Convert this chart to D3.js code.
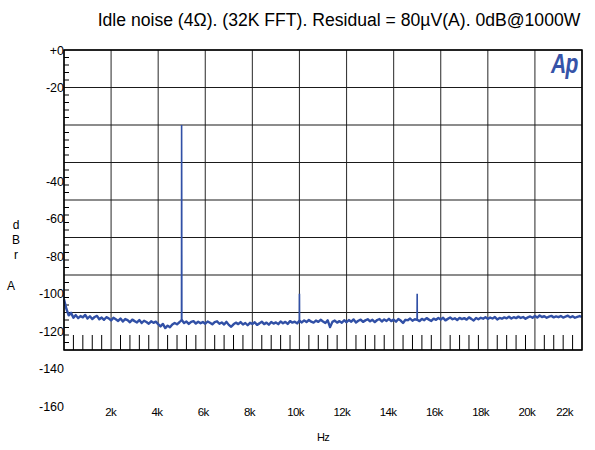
<html lang='en'>
    <head>
        <meta charset='utf-8'>
        <title>Idle noise</title>
        <script src="https://d3js.org/d3.v7.min.js"></script>
        <style>
            body { margin: 0; background: #fff; }
            svg text { font-family: "Liberation Sans", Arial, sans-serif; fill: #000; }
        </style>
    </head>
    <body>
        <script>
            var width = 595;
            var height = 450;

            // noise floor, one reading every 100 Hz from 0 to 22k (dBrA)
            var noiseStep = 100;
            var noiseDb = [
                -103.0, -108.0, -111.5, -110.2, -112.8, -111.4, -113.0, -111.9, -112.6, -111.3,
                -113.2, -112.0, -113.5, -112.4, -111.8, -113.6, -112.7, -113.9, -112.5, -113.1,
                -114.2, -112.8, -113.6, -114.5, -113.2, -114.8, -113.5, -114.1, -115.2, -113.8,
                -114.6, -115.3, -114.0, -115.6, -114.4, -115.1, -116.0, -114.7, -115.5, -114.9,
                -116.2, -117.4, -116.1, -118.3, -117.0, -117.9, -116.4, -115.6, -116.3, -115.2,
                -114.0, -115.6, -114.8, -116.1, -115.0, -114.6, -115.9, -114.9, -115.7, -115.1,
                -116.0, -114.8, -115.5, -116.3, -115.1, -114.7, -116.0, -115.3, -116.4, -115.0,
                -116.6, -117.6, -116.3, -115.4, -116.2, -115.1, -116.4, -115.6, -116.8, -115.5,
                -116.1, -115.2, -116.6, -115.8, -114.9, -116.2, -115.4, -116.5, -115.1, -115.9,
                -115.3, -116.2, -114.8, -115.7, -115.0, -116.1, -114.6, -115.4, -114.9, -115.8,
                -114.4, -115.3, -114.2, -115.1, -114.0, -114.9, -115.4, -114.3, -115.0, -113.9,
                -114.8, -115.6, -114.2, -117.8, -115.0, -114.3, -115.4, -114.6, -115.5, -114.1,
                -115.2, -114.0, -114.9, -113.7, -115.3, -114.4, -113.8, -115.0, -114.2, -113.6,
                -114.7, -113.9, -115.1, -114.0, -113.5, -114.8, -113.7, -114.5, -113.4, -114.6,
                -113.8, -114.9, -113.5, -114.3, -115.6, -113.9, -114.1, -113.2, -114.4, -113.6,
                -113.9, -114.6, -113.4, -114.1, -113.0, -113.8, -114.5, -113.3, -113.9, -112.9,
                -113.7, -112.8, -114.2, -113.4, -112.7, -113.6, -113.1, -114.0, -112.9, -113.5,
                -113.0, -113.8, -112.6, -113.4, -114.3, -112.9, -113.6, -112.8, -113.3, -112.5,
                -113.4, -112.7, -113.2, -112.4, -113.7, -112.9, -113.3, -112.6, -113.1, -112.3,
                -113.2, -112.5, -113.0, -112.2, -112.9, -112.4, -113.3, -112.6, -112.1, -112.8,
                -111.9, -112.7, -111.6, -112.4, -112.0, -112.8, -112.2, -111.8, -112.6, -112.1,
                -112.5, -111.9, -112.7, -112.2, -111.7, -112.6, -112.0, -112.8, -112.3, -111.9,
                -112.4
            ];

            // tones sticking out of the floor, one list of [Hz, dBrA] bins per tone
            var toneBins = [
                [[4990, -114.5], [4995, -10], [5000, -46], [5005, -114.2]],
                [[9995, -115.2], [10000, -100], [10005, -115.6]],
                [[14995, -113.6], [15000, -100], [15005, -114.0]]
            ];

            var xTickValues = [2000, 4000, 6000, 8000, 10000, 12000, 14000, 16000, 18000, 20000, 22000];
            var xTickText = ["2k", "4k", "6k", "8k", "10k", "12k", "14k", "16k", "18k", "20k", "22k"];
            // the analyzer prints the top two labels on the +30 / +10 lines
            var yTickAt = [30, 10, -40, -60, -80, -100, -120, -140, -160];
            var yTickText = ["+0", "-20", "-40", "-60", "-80", "-100", "-120", "-140", "-160"];

            var title = "Idle noise (4\u03A9). (32K FFT). Residual = 80\u00B5V(A). 0dB@1000W";

            var noise = noiseDb.map(function(v, i) { return [i * noiseStep, v]; });

            var plotL = 64, plotR = 582, plotT = 50, plotB = 350;

            var x = d3.scaleLinear().domain([0, 22000]).range([plotL, plotR]);
            var y = d3.scaleLinear().domain([-130, 30]).range([plotB, plotT]);
            // tick labels are laid out on a slightly narrower scale than the grid
            var xLabel = d3.scaleLinear().domain([0, 22000]).range([64.5, 573]);

            var svg = d3.select('body')
                        .append('svg')
                        .attr('width', width)
                        .attr('height', height);

            svg.append('text')
               .attr('x', 339)
               .attr('y', 26)
               .attr('text-anchor', 'middle')
               .style('font-size', '17.6px')
               .text(title);

            // grid
            var gridX = d3.range(0, 22001, 2000);
            var gridY = d3.range(30, -131, -20);

            svg.append('g')
               .selectAll('line')
               .data(gridX)
               .enter()
               .append('line')
               .attr('x1', function(d) { return x(d); })
               .attr('x2', function(d) { return x(d); })
               .attr('y1', plotT)
               .attr('y2', plotB)
               .attr('stroke', '#3a3a3a')
               .attr('stroke-width', 1.1);

            svg.append('g')
               .selectAll('line')
               .data(gridY)
               .enter()
               .append('line')
               .attr('x1', plotL)
               .attr('x2', plotR)
               .attr('y1', function(d) { return y(d); })
               .attr('y2', function(d) { return y(d); })
               .attr('stroke', '#1a1a1a')
               .attr('stroke-width', 1.1);

            // minor ticks
            var minorX = d3.range(0, 22000, 400).filter(function(d) { return d % 2000 != 0; });
            var minorY = d3.range(30, -130, -4).filter(function(d) { return (d - 30) % 20 != 0; });

            svg.append('g')
               .selectAll('line')
               .data(minorX)
               .enter()
               .append('line')
               .attr('x1', function(d) { return x(d); })
               .attr('x2', function(d) { return x(d); })
               .attr('y1', plotB - 15)
               .attr('y2', plotB)
               .attr('stroke', '#000')
               .attr('stroke-width', 1);

            svg.append('g')
               .selectAll('line')
               .data(minorY)
               .enter()
               .append('line')
               .attr('x1', plotL)
               .attr('x2', plotL + 5)
               .attr('y1', function(d) { return y(d); })
               .attr('y2', function(d) { return y(d); })
               .attr('stroke', '#000')
               .attr('stroke-width', 1);

            // trace
            var line = d3.line()
                         .x(function(d) { return x(d[0]); })
                         .y(function(d) { return y(d[1]); });

            svg.append('path')
               .datum(noise)
               .attr('d', line)
               .attr('fill', 'none')
               .attr('stroke', '#3150a6')
               .attr('stroke-width', 2.4)
               .attr('stroke-linejoin', 'round');

            svg.append('g')
               .selectAll('path')
               .data(toneBins)
               .enter()
               .append('path')
               .attr('d', line)
               .attr('fill', 'none')
               .attr('stroke', '#3150a6')
               .attr('stroke-width', 1.6);

            // frame
            svg.append('rect')
               .attr('x', plotL)
               .attr('y', plotT)
               .attr('width', plotR - plotL)
               .attr('height', plotB - plotT)
               .attr('fill', 'none')
               .attr('stroke', '#000')
               .attr('stroke-width', 1.5);

            // y labels
            svg.append('g')
               .selectAll('text')
               .data(yTickAt)
               .enter()
               .append('text')
               .attr('x', plotL)
               .attr('y', function(d) { return y(d); })
               .attr('dy', '0.36em')
               .attr('text-anchor', 'end')
               .style('font-size', '12.5px')
               .text(function(d, i) { return yTickText[i]; });

            // x labels
            svg.append('g')
               .selectAll('text')
               .data(xTickValues)
               .enter()
               .append('text')
               .attr('x', function(d) { return xLabel(d); })
               .attr('y', 416)
               .attr('text-anchor', function(d, i) { return i == xTickValues.length - 1 ? 'end' : 'middle'; })
               .style('font-size', '11.5px')
               .style('letter-spacing', '-0.6px')
               .text(function(d, i) { return xTickText[i]; });

            svg.append('text')
               .attr('x', 323)
               .attr('y', 441)
               .attr('text-anchor', 'middle')
               .style('font-size', '11px')
               .style('letter-spacing', '-0.8px')
               .text('Hz');

            // stacked unit label
            var unit = [["d", 16, 229], ["B", 16, 244], ["r", 16, 259], ["A", 11, 290]];
            svg.append('g')
               .selectAll('text')
               .data(unit)
               .enter()
               .append('text')
               .attr('x', function(d) { return d[1]; })
               .attr('y', function(d) { return d[2]; })
               .attr('text-anchor', 'middle')
               .style('font-size', '12px')
               .text(function(d) { return d[0]; });

            // Ap logo
            svg.append('text')
               .attr('transform', 'translate(551,73) scale(0.78,1)')
               .style('font-size', '27px')
               .style('font-weight', 'bold')
               .style('font-style', 'italic')
               .style('letter-spacing', '-1px')
               .style('fill', '#3653a8')
               .text('Ap');
        </script>
    </body>
</html>
